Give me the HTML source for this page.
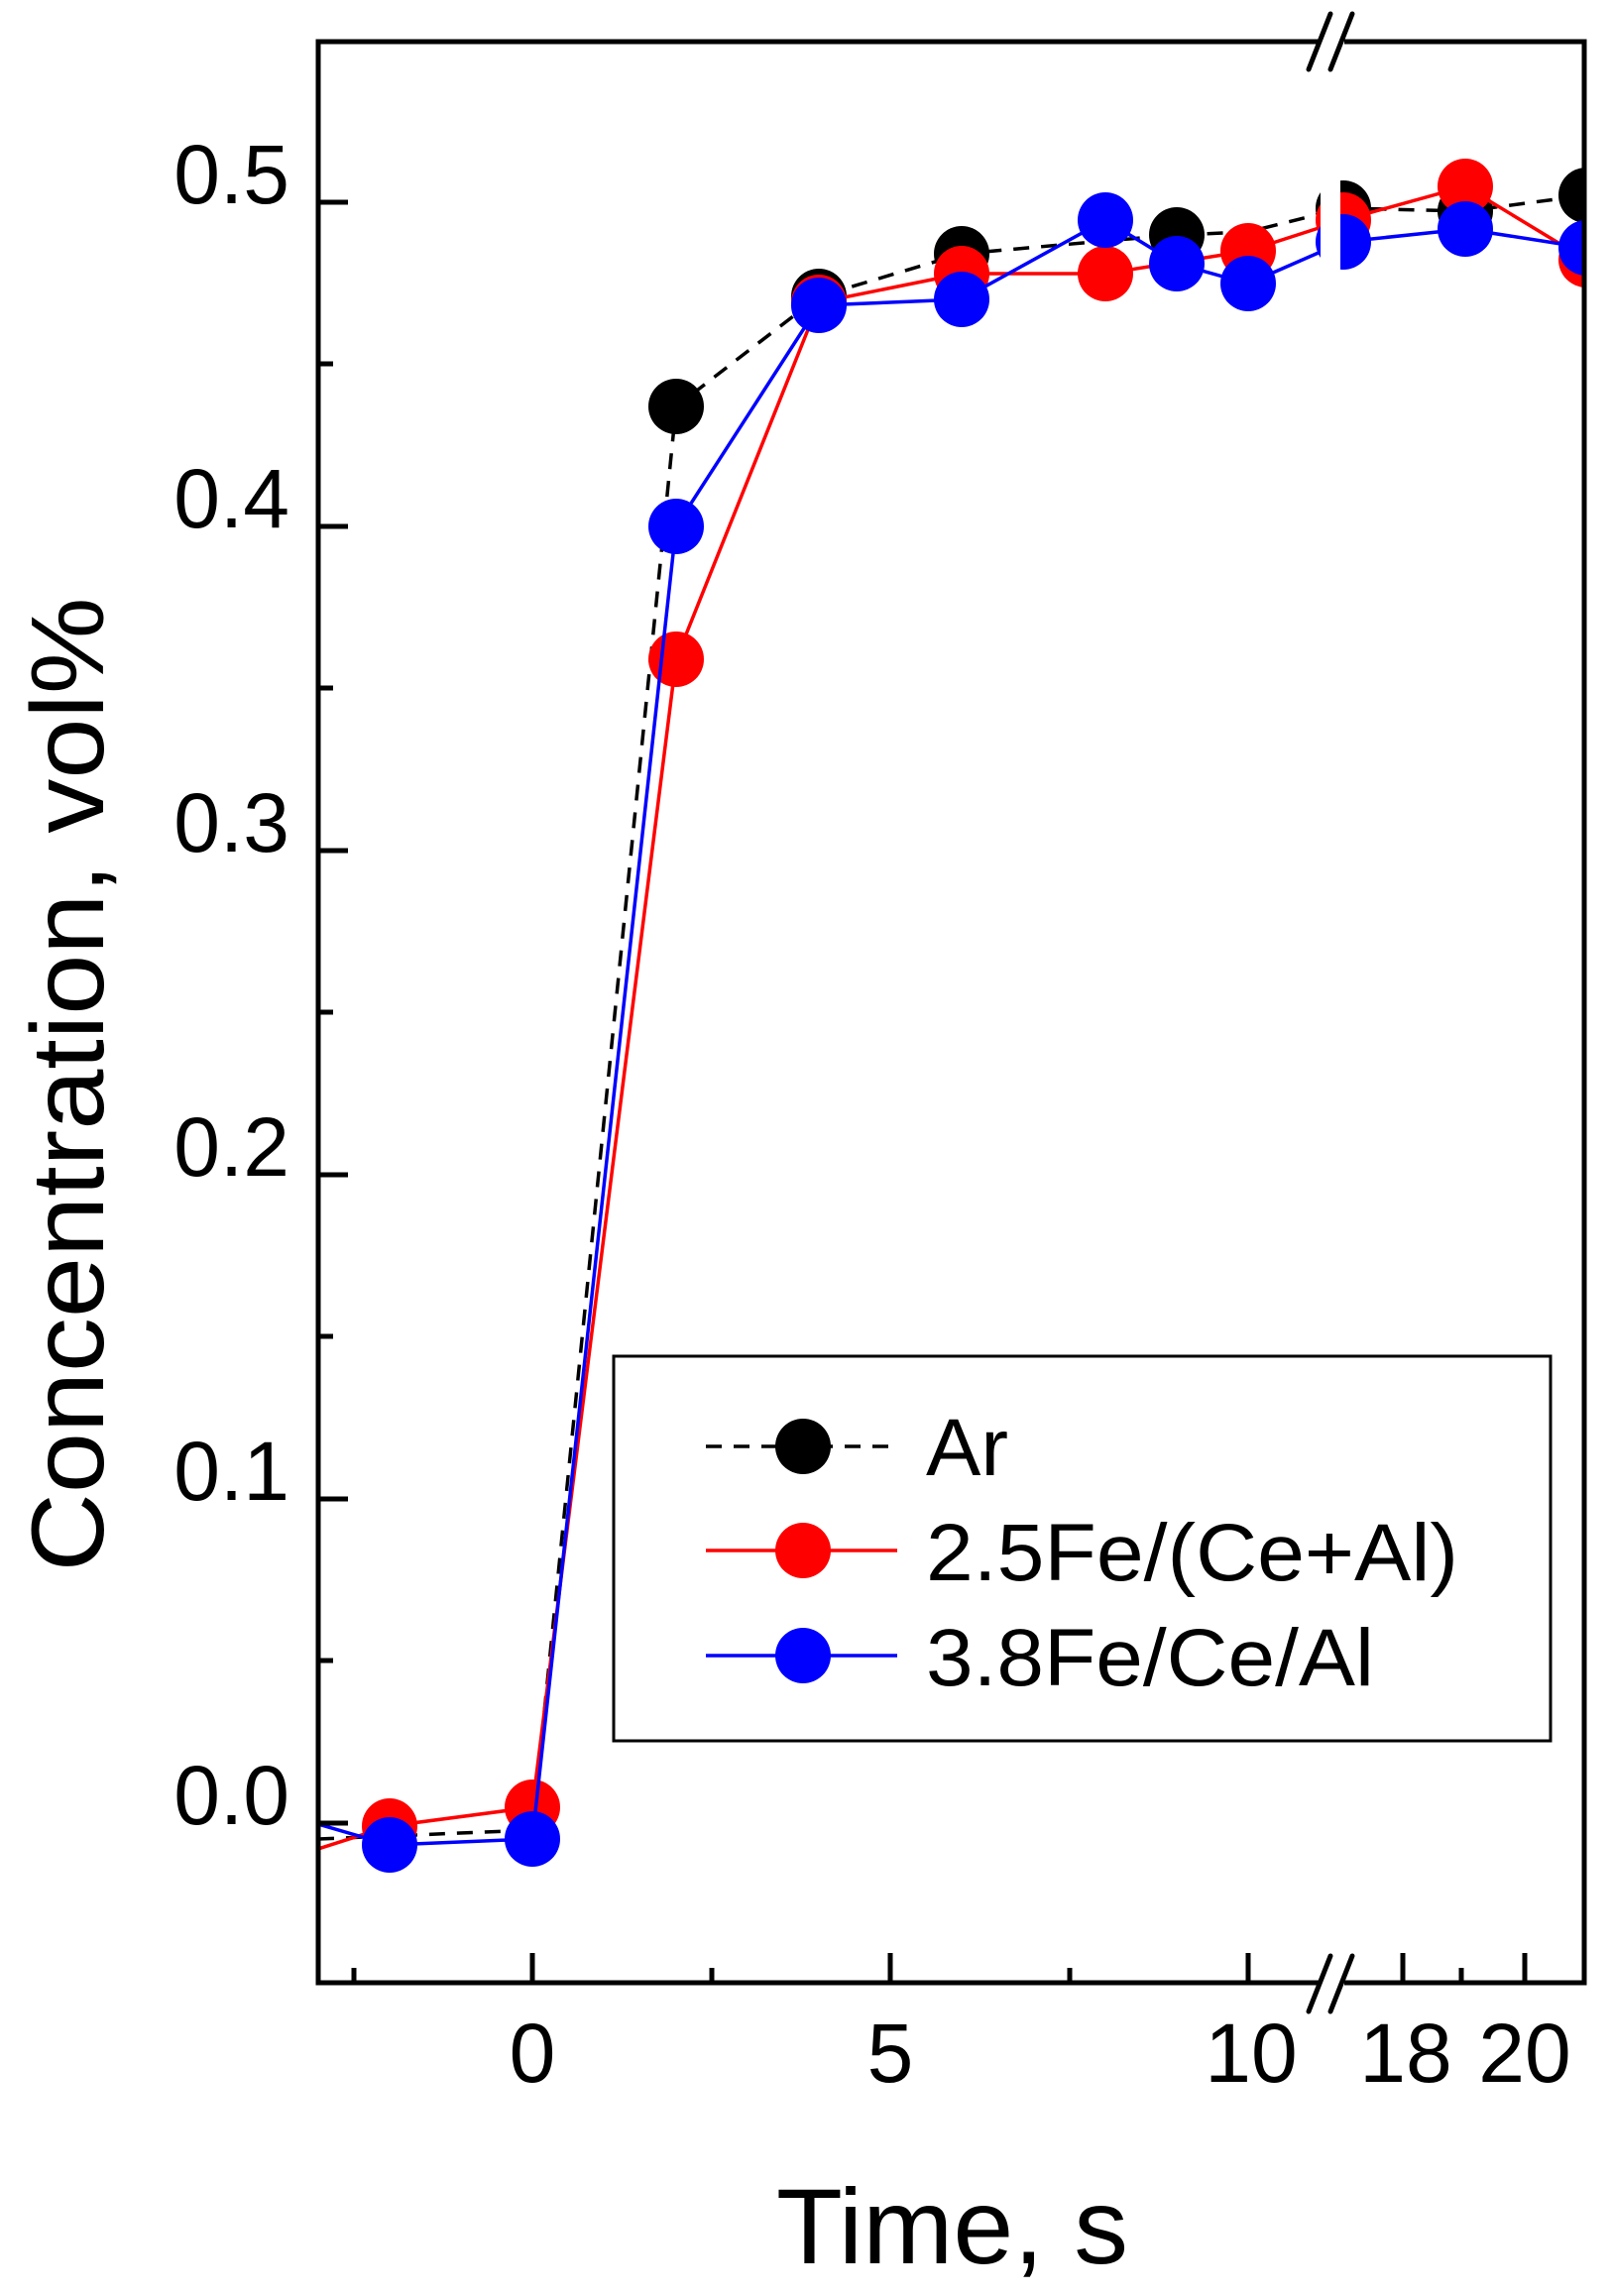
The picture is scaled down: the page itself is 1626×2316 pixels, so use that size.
<!DOCTYPE html>
<html><head><meta charset="utf-8"><style>html,body{margin:0;padding:0;background:#fff}svg{display:block}</style></head>
<body>
<svg width="1626" height="2316" viewBox="0 0 1626 2316" xmlns="http://www.w3.org/2000/svg" font-family="Liberation Sans, Arial, sans-serif">
<defs><clipPath id="c"><rect x="321" y="42" width="1277" height="1958"/></clipPath></defs>
<g clip-path="url(#c)">
<!-- Ar -->
<polyline fill="none" stroke="#000" stroke-width="3.5" stroke-dasharray="16,12" points="321,1855 393,1852 537,1846 682,410 826,299 970,256 1115,243 1187,237 1259,234 1355,210 1478,213 1600,197"/>
<g fill="#000"><circle cx="682" cy="410" r="28"/><circle cx="826" cy="299" r="28"/><circle cx="970" cy="256" r="28"/><circle cx="1187" cy="237" r="28"/><circle cx="1355" cy="210" r="28"/><circle cx="1478" cy="213" r="28"/><circle cx="1600" cy="197" r="28"/></g>
<!-- red -->
<polyline fill="none" stroke="#f00" stroke-width="3.5" points="321,1865 393,1842 537,1823 682,665 826,305 970,276 1115,276 1259,253 1355,222 1478,188 1600,262"/>
<g fill="#f00"><circle cx="393" cy="1842" r="28"/><circle cx="537" cy="1823" r="28"/><circle cx="682" cy="665" r="28"/><circle cx="826" cy="305" r="28"/><circle cx="970" cy="276" r="28"/><circle cx="1115" cy="276" r="28"/><circle cx="1259" cy="253" r="28"/><circle cx="1355" cy="222" r="28"/><circle cx="1478" cy="188" r="28"/><circle cx="1600" cy="262" r="28"/></g>
<!-- blue -->
<polyline fill="none" stroke="#00f" stroke-width="3.5" points="321,1840 393,1861 537,1855 682,531 826,308 970,302 1115,222 1187,266 1259,286 1355,244 1478,231 1600,250"/>
<g fill="#00f"><circle cx="393" cy="1861" r="28"/><circle cx="537" cy="1855" r="28"/><circle cx="682" cy="531" r="28"/><circle cx="826" cy="308" r="28"/><circle cx="970" cy="302" r="28"/><circle cx="1115" cy="222" r="28"/><circle cx="1187" cy="266" r="28"/><circle cx="1259" cy="286" r="28"/><circle cx="1355" cy="244" r="28"/><circle cx="1478" cy="231" r="28"/><circle cx="1600" cy="250" r="28"/></g>
<rect x="1332" y="44" width="20" height="400" fill="#fff"/>
</g>
<!-- frame -->
<rect x="321" y="42" width="1277" height="1958" fill="none" stroke="#000" stroke-width="5"/>
<!-- break marks -->
<rect x="1330" y="36" width="26" height="12" fill="#fff"/>
<rect x="1330" y="1994" width="26" height="12" fill="#fff"/>
<g stroke="#000" stroke-width="5" stroke-linecap="round">
<line x1="1320" y1="70" x2="1342" y2="14"/><line x1="1342" y1="70" x2="1364" y2="14"/>
<line x1="1320" y1="2029" x2="1342" y2="1973"/><line x1="1342" y1="2029" x2="1364" y2="1973"/>
</g>
<!-- ticks -->
<g stroke="#000" stroke-width="5">
<line x1="537" y1="2000" x2="537" y2="1970"/><line x1="898" y1="2000" x2="898" y2="1970"/><line x1="1259" y1="2000" x2="1259" y2="1970"/>
<line x1="1415" y1="2000" x2="1415" y2="1970"/><line x1="1538" y1="2000" x2="1538" y2="1970"/>
<line x1="357" y1="2000" x2="357" y2="1985"/><line x1="718" y1="2000" x2="718" y2="1985"/><line x1="1079" y1="2000" x2="1079" y2="1985"/><line x1="1474" y1="2000" x2="1474" y2="1985"/>
<line x1="321" y1="1839" x2="351" y2="1839"/><line x1="321" y1="1512" x2="351" y2="1512"/><line x1="321" y1="1185" x2="351" y2="1185"/><line x1="321" y1="858" x2="351" y2="858"/><line x1="321" y1="531" x2="351" y2="531"/><line x1="321" y1="204" x2="351" y2="204"/>
<line x1="321" y1="1675" x2="336" y2="1675"/><line x1="321" y1="1348" x2="336" y2="1348"/><line x1="321" y1="1021" x2="336" y2="1021"/><line x1="321" y1="694" x2="336" y2="694"/><line x1="321" y1="367" x2="336" y2="367"/>
</g>
<!-- tick labels -->
<g font-size="84" fill="#000" text-anchor="end">
<text x="292" y="1840">0.0</text><text x="292" y="1513">0.1</text><text x="292" y="1186">0.2</text><text x="292" y="859">0.3</text><text x="292" y="532">0.4</text><text x="292" y="205">0.5</text>
</g>
<g font-size="84" fill="#000" text-anchor="middle">
<text x="537" y="2100">0</text><text x="898" y="2100">5</text><text x="1262" y="2100">10</text><text x="1418" y="2100">18</text><text x="1538" y="2100">20</text>
</g>
<text x="783" y="2283" font-size="108" textLength="355" lengthAdjust="spacingAndGlyphs">Time, s</text>
<text transform="translate(104,1094) rotate(-90)" font-size="104" text-anchor="middle" textLength="983" lengthAdjust="spacingAndGlyphs">Concentration, vol%</text>
<!-- legend -->
<rect x="619" y="1368" width="945" height="388" fill="#fff" stroke="#000" stroke-width="3"/>
<line x1="712" y1="1459" x2="905" y2="1459" stroke="#000" stroke-width="3.5" stroke-dasharray="16,12"/>
<circle cx="810" cy="1459" r="28" fill="#000"/>
<line x1="712" y1="1564" x2="905" y2="1564" stroke="#f00" stroke-width="3.5"/>
<circle cx="810" cy="1564" r="28" fill="#f00"/>
<line x1="712" y1="1670" x2="905" y2="1670" stroke="#00f" stroke-width="3.5"/>
<circle cx="810" cy="1670" r="28" fill="#00f"/>
<g font-size="82" fill="#000">
<text x="934" y="1488" textLength="83" lengthAdjust="spacingAndGlyphs">Ar</text><text x="934" y="1594" textLength="537" lengthAdjust="spacingAndGlyphs">2.5Fe/(Ce+Al)</text><text x="934" y="1700" textLength="452" lengthAdjust="spacingAndGlyphs">3.8Fe/Ce/Al</text>
</g>
</svg>
</body></html>
